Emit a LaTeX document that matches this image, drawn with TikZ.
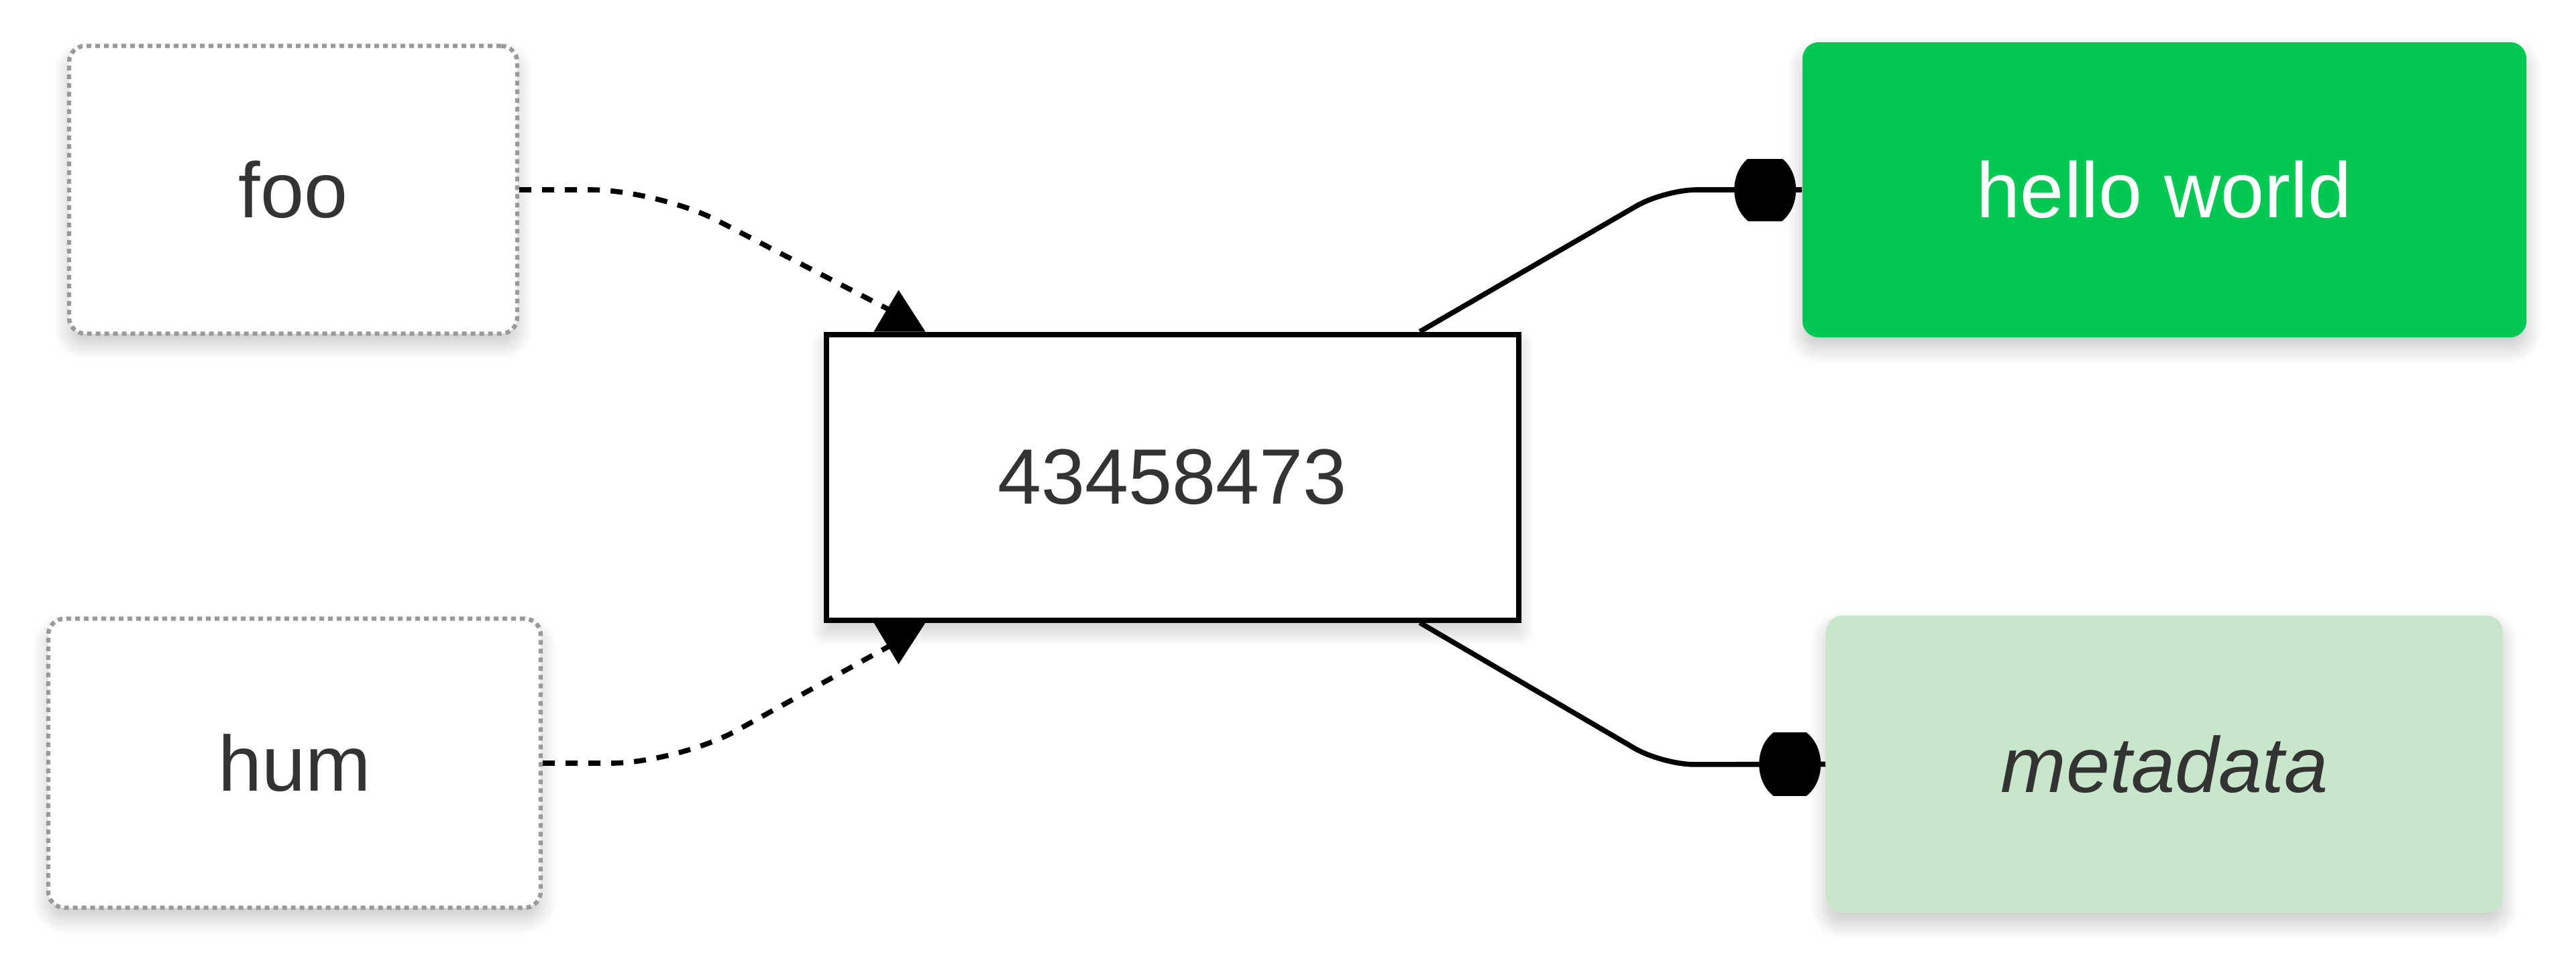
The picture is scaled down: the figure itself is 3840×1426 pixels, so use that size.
\documentclass[tikz,border=0pt]{standalone}
\usepackage{fontspec}
\setmainfont{Liberation Sans}
\usetikzlibrary{calc,shadows.blur}
\definecolor{txt}{HTML}{333333}
\definecolor{dashgray}{HTML}{999999}
\definecolor{hgreen}{HTML}{00C853}
\definecolor{lgreen}{HTML}{C8E6C9}
\begin{document}
\begin{tikzpicture}[x=0.25pt,y=-0.25pt,
  lbl/.style={font=\fontsize{29.25}{35}\selectfont, text=txt, inner sep=0pt, align=center},
  shad/.style={blur shadow={shadow xshift=0pt, shadow yshift=-4pt, shadow blur radius=6pt, shadow opacity=22, shadow blur steps=14}},
  ghost/.style={lbl, shad, draw=dashgray, fill=white, line width=1.6pt, dash pattern=on 1.75pt off 1.5pt, rounded corners=6pt},
  mainbox/.style={lbl, shad, draw=black, fill=white, line width=2pt},
  greenbox/.style={lbl, shad, rounded corners=6pt},
  dashconn/.style={draw=black, line width=1.9pt, dash pattern=on 4.5pt off 4pt, rounded corners=25pt},
  solidconn/.style={draw=black, line width=1.9pt, rounded corners=12pt}
]
\useasboundingbox (0,0) rectangle (3840,1426);

\node[ghost, minimum width=167pt, minimum height=107.25pt] (foo) at (437,283) {foo};
\node[ghost, minimum width=183.5pt, minimum height=107.75pt] (hum) at (439,1138) {hum};
\node[mainbox, minimum width=258pt, minimum height=106.5pt] (mid) at (1747.5,711.5) {43458473};
\node[greenbox, fill=hgreen, text=white, minimum width=269.75pt, minimum height=110pt] (hello) at (3226.5,283) {hello world};
\node[greenbox, fill=lgreen, minimum width=252.25pt, minimum height=110.75pt] (meta) at (3226.5,1139.5) {\itshape metadata};

% arrow anchor points on the central box
\coordinate (t1) at ($(mid.north west)+(113,0)$);
\coordinate (t2) at ($(mid.south west)+(113,0)$);
\coordinate (s1) at ($(mid.north west)+(889,0)$);
\coordinate (s2) at ($(mid.south west)+(889,0)$);

% dashed connectors
\draw[dashconn] (foo.east) -- (981,283) -- ($(t1)+(-6,-28)$);
\draw[dashconn] (hum.east) -- (1010,1138) -- ($(t2)+(-6,30)$);
\fill[black] ($(t1)+(-38,0)$) -- ($(t1)+(-1,-62)$) -- ($(t1)+(39,0)$) -- cycle;
\fill[black] ($(t2)+(-38,0)$) -- ($(t2)+(-1,62)$) -- ($(t2)+(39,0)$) -- cycle;

% solid connectors
\draw[solidconn] (s1) -- (2481,283) -- (hello.west);
\draw[solidconn] (s2) -- (2478,1140) -- (meta.west);

% circle end markers
\coordinate (m1) at ($(hello.west)+(-55,0)$);
\coordinate (m2) at ($(meta.west)+(-53,0)$);
\begin{scope}
  \clip ($(m1)+(-60,-46)$) rectangle ($(m1)+(60,46)$);
  \fill[black] (m1) ellipse [x radius=11.5pt, y radius=14pt];
\end{scope}
\begin{scope}
  \clip ($(m2)+(-60,-47)$) rectangle ($(m2)+(60,47)$);
  \fill[black] (m2) ellipse [x radius=11.5pt, y radius=14pt];
\end{scope}
\end{tikzpicture}
\end{document}
